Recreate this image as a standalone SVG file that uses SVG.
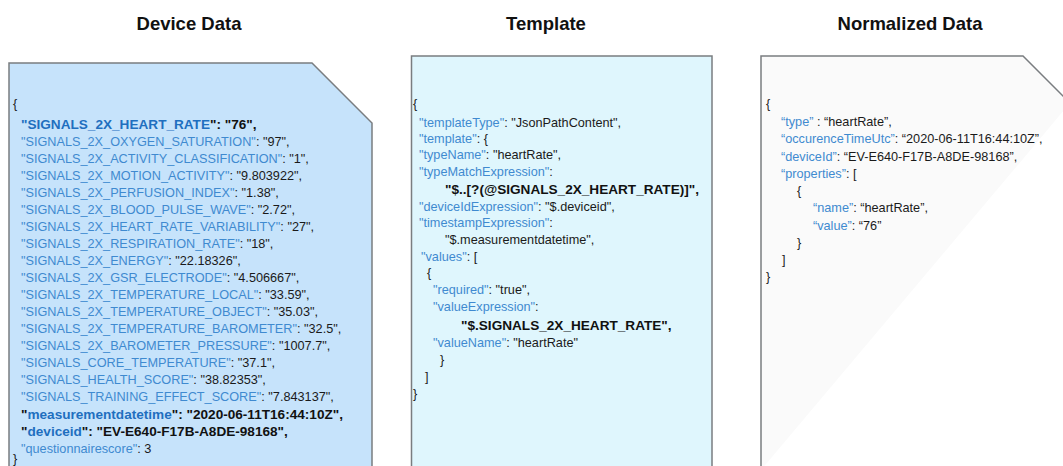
<svg xmlns="http://www.w3.org/2000/svg" width="1063" height="466" viewBox="0 0 1063 466">
  <style>
    .title { font-family: "Liberation Sans", Arial, sans-serif; font-size: 18.5px; font-weight: bold; fill: #111; text-anchor: middle; }
    .code { font-family: "Liberation Sans", Arial, sans-serif; font-size: 12.7px; fill: #1a1a1a; }
    .big { font-size: 13.6px; }
    .k { fill: #3f8ad0; }
    .kb { fill: #1f6fbf; font-weight: bold; }
    .b { font-weight: bold; fill: #111; }
    .box { stroke: #7a7d80; stroke-width: 1.5; }
  </style>

  <rect width="1063" height="466" fill="#ffffff"/>

  <!-- column headings -->
  <text class="title" x="189" y="30">Device Data</text>
  <text class="title" x="546" y="30">Template</text>
  <text class="title" x="910" y="30">Normalized Data</text>

  <g id="connectors"></g>

  <!-- raw device payload -->
  <g id="device-data">
    <path class="box" d="M9,470 L9,63 L312,63 L372,123 L372,470" fill="#c6e3fb"/>
    <text class="code" x="13" y="108">{</text>
    <text class="code big" x="21" y="129"><tspan class="kb">"SIGNALS_2X_HEART_RATE</tspan><tspan class="b">": "76",</tspan></text>
    <text class="code" x="21" y="146"><tspan class="k">"SIGNALS_2X_OXYGEN_SATURATION"</tspan>: "97",</text>
    <text class="code" x="21" y="163"><tspan class="k">"SIGNALS_2X_ACTIVITY_CLASSIFICATION"</tspan>: "1",</text>
    <text class="code" x="21" y="180"><tspan class="k">"SIGNALS_2X_MOTION_ACTIVITY"</tspan>: "9.803922",</text>
    <text class="code" x="21" y="197"><tspan class="k">"SIGNALS_2X_PERFUSION_INDEX"</tspan>: "1.38",</text>
    <text class="code" x="21" y="214"><tspan class="k">"SIGNALS_2X_BLOOD_PULSE_WAVE"</tspan>: "2.72",</text>
    <text class="code" x="21" y="231"><tspan class="k">"SIGNALS_2X_HEART_RATE_VARIABILITY"</tspan>: "27",</text>
    <text class="code" x="21" y="248"><tspan class="k">"SIGNALS_2X_RESPIRATION_RATE"</tspan>: "18",</text>
    <text class="code" x="21" y="265"><tspan class="k">"SIGNALS_2X_ENERGY"</tspan>: "22.18326",</text>
    <text class="code" x="21" y="282"><tspan class="k">"SIGNALS_2X_GSR_ELECTRODE"</tspan>: "4.506667",</text>
    <text class="code" x="21" y="299"><tspan class="k">"SIGNALS_2X_TEMPERATURE_LOCAL"</tspan>: "33.59",</text>
    <text class="code" x="21" y="316"><tspan class="k">"SIGNALS_2X_TEMPERATURE_OBJECT"</tspan>: "35.03",</text>
    <text class="code" x="21" y="333"><tspan class="k">"SIGNALS_2X_TEMPERATURE_BAROMETER"</tspan>: "32.5",</text>
    <text class="code" x="21" y="350"><tspan class="k">"SIGNALS_2X_BAROMETER_PRESSURE"</tspan>: "1007.7",</text>
    <text class="code" x="21" y="367"><tspan class="k">"SIGNALS_CORE_TEMPERATURE"</tspan>: "37.1",</text>
    <text class="code" x="21" y="384"><tspan class="k">"SIGNALS_HEALTH_SCORE"</tspan>: "38.82353",</text>
    <text class="code" x="21" y="401"><tspan class="k">"SIGNALS_TRAINING_EFFECT_SCORE"</tspan>: "7.843137",</text>
    <text class="code big" x="21" y="418.5"><tspan class="b">"</tspan><tspan class="kb">measurementdatetime</tspan><tspan class="b">": "2020-06-11T16:44:10Z",</tspan></text>
    <text class="code big" x="21" y="436"><tspan class="b">"</tspan><tspan class="kb">deviceid</tspan><tspan class="b">": "EV-E640-F17B-A8DE-98168",</tspan></text>
    <text class="code" x="21" y="452.5"><tspan class="k">"questionnairescore"</tspan>: 3</text>
    <text class="code" x="13" y="462.5">}</text>
  </g>

  <!-- mapping template -->
  <g id="template">
    <rect class="box" x="411.5" y="56" width="300.5" height="414" fill="#dff6fd"/>
    <text class="code" x="413" y="108">{</text>
    <text class="code" x="419" y="127"><tspan class="k">"templateType"</tspan>: "JsonPathContent",</text>
    <text class="code" x="419" y="143"><tspan class="k">"template"</tspan>: {</text>
    <text class="code" x="419" y="159"><tspan class="k">"typeName"</tspan>: "heartRate",</text>
    <text class="code" x="419" y="176"><tspan class="k">"typeMatchExpression"</tspan>:</text>
    <text class="code big b" x="445" y="194">"$..[?(@SIGNALS_2X_HEART_RATE)]",</text>
    <text class="code" x="419" y="211"><tspan class="k">"deviceIdExpression"</tspan>: "$.deviceid",</text>
    <text class="code" x="419" y="227"><tspan class="k">"timestampExpression"</tspan>:</text>
    <text class="code" x="445" y="244">"$.measurementdatetime",</text>
    <text class="code" x="421" y="261"><tspan class="k">"values"</tspan>: [</text>
    <text class="code" x="427" y="277">{</text>
    <text class="code" x="433" y="294"><tspan class="k">"required"</tspan>: "true",</text>
    <text class="code" x="433" y="311"><tspan class="k">"valueExpression"</tspan>:</text>
    <text class="code big b" x="461" y="330">"$.SIGNALS_2X_HEART_RATE",</text>
    <text class="code" x="433" y="347"><tspan class="k">"valueName"</tspan>: "heartRate"</text>
    <text class="code" x="440" y="364">}</text>
    <text class="code" x="425" y="381">]</text>
    <text class="code" x="413" y="398">}</text>
  </g>

  <!-- normalized output -->
  <g id="normalized-data">
    <path class="box" d="M761,470 L761,56 L1023,56 L1070,103" fill="#fafafa"/>
    <text class="code" x="766" y="108">{</text>
    <text class="code" x="781" y="126"><tspan class="k">“type”</tspan> : “heartRate”,</text>
    <text class="code" x="781" y="143"><tspan class="k">“occurenceTimeUtc”</tspan>: “2020-06-11T16:44:10Z”,</text>
    <text class="code" x="781" y="161"><tspan class="k">“deviceId”</tspan>: “EV-E640-F17B-A8DE-98168”,</text>
    <text class="code" x="781" y="178"><tspan class="k">“properties”</tspan>: [</text>
    <text class="code" x="797" y="195">{</text>
    <text class="code" x="813" y="212"><tspan class="k">“name”</tspan>: “heartRate”,</text>
    <text class="code" x="813" y="230"><tspan class="k">“value”</tspan>: “76”</text>
    <text class="code" x="797" y="247">}</text>
    <text class="code" x="782" y="264">]</text>
    <text class="code" x="766" y="281">}</text>
  </g>
</svg>
